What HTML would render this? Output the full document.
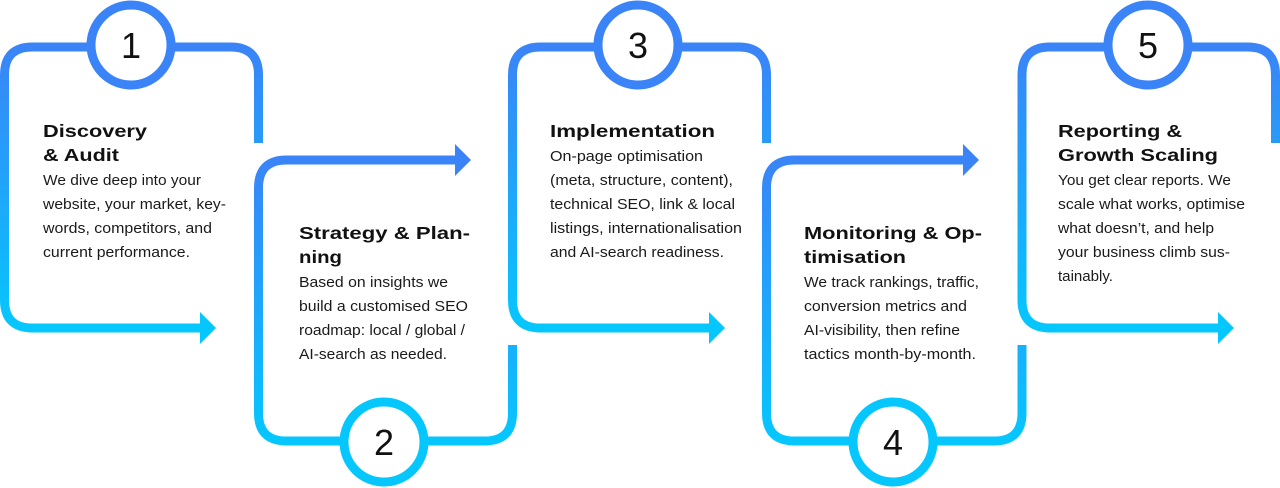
<!DOCTYPE html>
<html><head><meta charset="utf-8"><style>
html,body{margin:0;padding:0;background:#fff;}
svg{display:block}
.h{font-family:"Liberation Sans",sans-serif;font-weight:bold;font-size:17.5px;fill:#111;}
.b{font-family:"Liberation Sans",sans-serif;font-size:15px;fill:#1a1a1a;}
.n{font-family:"Liberation Sans",sans-serif;font-size:36px;fill:#111;text-anchor:middle;}
</style></head><body>
<svg width="1280" height="488" viewBox="0 0 1280 488" xmlns="http://www.w3.org/2000/svg">
<defs>
<linearGradient id="gt" gradientUnits="userSpaceOnUse" x1="0" y1="47" x2="0" y2="330"><stop offset="0" stop-color="#3a84f7"/><stop offset="1" stop-color="#05c7fe"/></linearGradient>
<linearGradient id="gb" gradientUnits="userSpaceOnUse" x1="0" y1="158" x2="0" y2="443"><stop offset="0" stop-color="#3a84f7"/><stop offset="1" stop-color="#05c7fe"/></linearGradient>
</defs>
<g fill="none" stroke-width="9">
<!-- top boxes -->
<g stroke="url(#gt)">
<path d="M258.5,143 V75 Q258.5,47 230.5,47 H32.5 Q4.5,47 4.5,75 V300 Q4.5,328 32.5,328 H203"/>
<path d="M766.5,143 V75 Q766.5,47 738.5,47 H540.5 Q512.5,47 512.5,75 V300 Q512.5,328 540.5,328 H711"/>
<path d="M1275.5,143 V75 Q1275.5,47 1247.5,47 H1050 Q1022,47 1022,75 V300 Q1022,328 1050,328 H1220"/>
</g>
<g stroke="url(#gb)">
<path d="M512.5,345 V413 Q512.5,441 484.5,441 H286.5 Q258.5,441 258.5,413 V188 Q258.5,160 286.5,160 H457"/>
<path d="M1022,345 V413 Q1022,441 994,441 H794.5 Q766.5,441 766.5,413 V188 Q766.5,160 794.5,160 H965"/>
</g>
</g>
<g fill="#05c7fe">
<polygon points="200,312 216,328 200,344"/>
<polygon points="709,312 725,328 709,344"/>
<polygon points="1218,312 1234,328 1218,344"/>
</g>
<g fill="#3a84f7">
<polygon points="455,144 471,160 455,176"/>
<polygon points="963,144 979,160 963,176"/>
</g>
<g fill="#fff" stroke-width="9">
<circle cx="131" cy="45" r="40" stroke="#3a84f7"/>
<circle cx="638" cy="45" r="40" stroke="#3a84f7"/>
<circle cx="1148" cy="45" r="40" stroke="#3a84f7"/>
<circle cx="384" cy="442" r="40" stroke="#05c7fe"/>
<circle cx="893" cy="442" r="40" stroke="#05c7fe"/>
</g>
<text class="n" x="131" y="58">1</text>
<text class="n" x="638" y="58">3</text>
<text class="n" x="1148" y="58">5</text>
<text class="n" x="384" y="455">2</text>
<text class="n" x="893" y="455">4</text>

<g lengthAdjust="spacingAndGlyphs">
<text class="h" x="43" y="137" textLength="104" lengthAdjust="spacingAndGlyphs">Discovery</text>
<text class="h" x="43" y="161" textLength="76" lengthAdjust="spacingAndGlyphs">&amp; Audit</text>
<text class="b" x="43" y="185" textLength="158" lengthAdjust="spacingAndGlyphs">We dive deep into your</text>
<text class="b" x="43" y="209" textLength="183" lengthAdjust="spacingAndGlyphs">website, your market, key-</text>
<text class="b" x="43" y="233" textLength="169" lengthAdjust="spacingAndGlyphs">words, competitors, and</text>
<text class="b" x="43" y="257" textLength="147" lengthAdjust="spacingAndGlyphs">current performance.</text>

<text class="h" x="299" y="239" textLength="171" lengthAdjust="spacingAndGlyphs">Strategy &amp; Plan-</text>
<text class="h" x="299" y="263" textLength="43" lengthAdjust="spacingAndGlyphs">ning</text>
<text class="b" x="299" y="287" textLength="149" lengthAdjust="spacingAndGlyphs">Based on insights we</text>
<text class="b" x="299" y="311" textLength="169" lengthAdjust="spacingAndGlyphs">build a customised SEO</text>
<text class="b" x="299" y="335" textLength="166" lengthAdjust="spacingAndGlyphs">roadmap: local / global /</text>
<text class="b" x="299" y="359" textLength="148" lengthAdjust="spacingAndGlyphs">AI-search as needed.</text>

<text class="h" x="550" y="137" textLength="165" lengthAdjust="spacingAndGlyphs">Implementation</text>
<text class="b" x="550" y="161" textLength="153" lengthAdjust="spacingAndGlyphs">On-page optimisation</text>
<text class="b" x="550" y="185" textLength="183" lengthAdjust="spacingAndGlyphs">(meta, structure, content),</text>
<text class="b" x="550" y="209" textLength="185" lengthAdjust="spacingAndGlyphs">technical SEO, link &amp; local</text>
<text class="b" x="550" y="233" textLength="192" lengthAdjust="spacingAndGlyphs">listings, internationalisation</text>
<text class="b" x="550" y="257" textLength="174" lengthAdjust="spacingAndGlyphs">and AI-search readiness.</text>

<text class="h" x="804" y="239" textLength="178" lengthAdjust="spacingAndGlyphs">Monitoring &amp; Op-</text>
<text class="h" x="804" y="263" textLength="102" lengthAdjust="spacingAndGlyphs">timisation</text>
<text class="b" x="804" y="287" textLength="175" lengthAdjust="spacingAndGlyphs">We track rankings, traffic,</text>
<text class="b" x="804" y="311" textLength="163" lengthAdjust="spacingAndGlyphs">conversion metrics and</text>
<text class="b" x="804" y="335" textLength="156" lengthAdjust="spacingAndGlyphs">AI-visibility, then refine</text>
<text class="b" x="804" y="359" textLength="172" lengthAdjust="spacingAndGlyphs">tactics month-by-month.</text>

<text class="h" x="1058" y="137" textLength="124" lengthAdjust="spacingAndGlyphs">Reporting &amp;</text>
<text class="h" x="1058" y="161" textLength="160" lengthAdjust="spacingAndGlyphs">Growth Scaling</text>
<text class="b" x="1058" y="185" textLength="173" lengthAdjust="spacingAndGlyphs">You get clear reports. We</text>
<text class="b" x="1058" y="209" textLength="187" lengthAdjust="spacingAndGlyphs">scale what works, optimise</text>
<text class="b" x="1058" y="233" textLength="156" lengthAdjust="spacingAndGlyphs">what doesn’t, and help</text>
<text class="b" x="1058" y="257" textLength="172" lengthAdjust="spacingAndGlyphs">your business climb sus-</text>
<text class="b" x="1058" y="281" textLength="55" lengthAdjust="spacingAndGlyphs">tainably.</text>
</g>
</svg>
</body></html>
